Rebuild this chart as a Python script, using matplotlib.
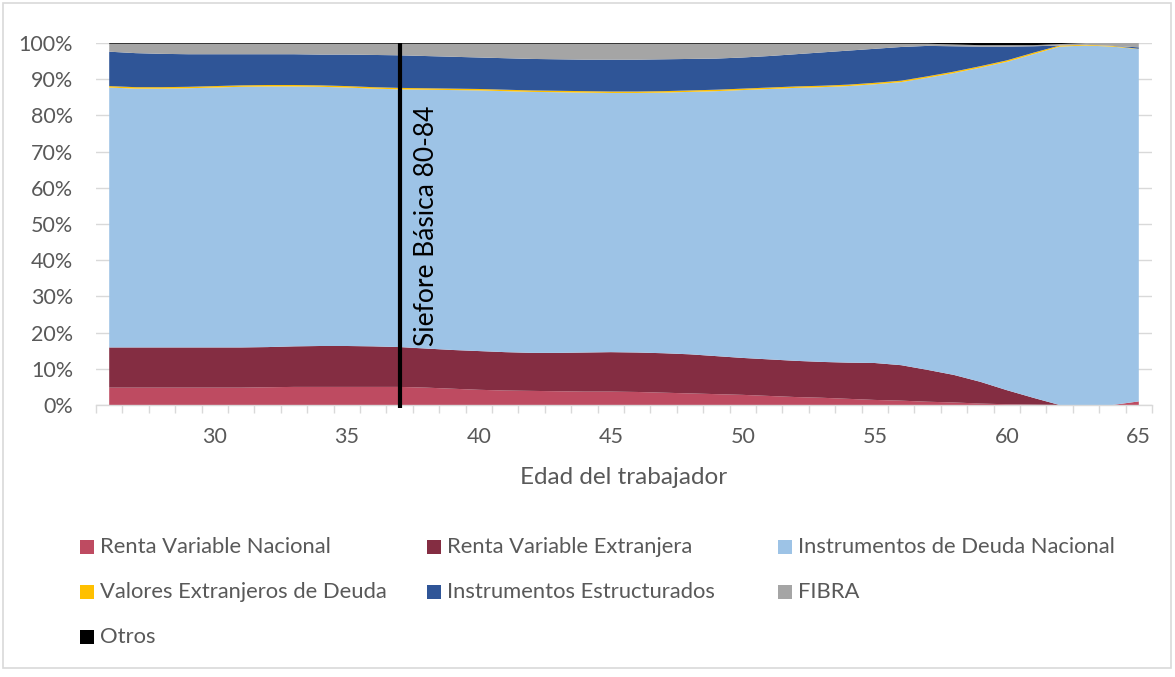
import matplotlib
matplotlib.use("Agg")
import matplotlib.pyplot as plt
from matplotlib.patches import Rectangle
from matplotlib.ticker import FixedLocator

plt.rcParams['font.family'] = ['Lato', 'DejaVu Sans']

edades = list(range(26, 66))

renta_var_nacional = [4.8, 4.8, 4.8, 4.8, 4.8, 4.8, 4.9, 5.0, 5.0, 5.0,
                      5.0, 5.0, 4.8, 4.5, 4.2, 4.0, 3.9, 3.8, 3.7, 3.7,
                      3.6, 3.4, 3.2, 3.0, 2.8, 2.5, 2.2, 2.0, 1.7, 1.4,
                      1.2, 0.9, 0.7, 0.4, 0.2, 0.1, 0.0, 0.0, 0.0, 1.0]
renta_var_extranjera = [11.1, 11.1, 11.1, 11.1, 11.1, 11.1, 11.1, 11.2, 11.3, 11.3,
                        11.2, 11.0, 10.8, 10.7, 10.7, 10.6, 10.5, 10.6, 10.8, 10.9,
                        10.9, 10.9, 10.8, 10.5, 10.2, 10.1, 10.0, 9.9, 10.0, 10.2,
                        9.8, 8.8, 7.6, 6.0, 3.9, 1.9, 0.0, 0.0, 0.0, 0.0]
deuda_nacional = [71.8, 71.5, 71.5, 71.6, 71.8, 72.0, 72.0, 71.8, 71.6, 71.4,
                  71.2, 71.2, 71.5, 71.8, 72.0, 72.1, 72.1, 72.0, 71.8, 71.6,
                  71.7, 72.0, 72.5, 73.2, 74.0, 74.7, 75.4, 75.9, 76.4, 77.0,
                  78.2, 80.7, 83.4, 86.8, 90.7, 94.9, 99.0, 99.3, 99.0, 97.3]
valores_ext_deuda = [0.4, 0.4, 0.4, 0.4, 0.4, 0.4, 0.4, 0.4, 0.4, 0.4,
                     0.4, 0.4, 0.4, 0.4, 0.4, 0.4, 0.4, 0.4, 0.4, 0.4,
                     0.4, 0.4, 0.4, 0.4, 0.4, 0.4, 0.4, 0.4, 0.4, 0.4,
                     0.4, 0.4, 0.4, 0.4, 0.4, 0.4, 0.3, 0.2, 0.2, 0.1]
estructurados = [9.5, 9.4, 9.2, 9.0, 8.8, 8.6, 8.5, 8.5, 8.5, 8.7,
                 8.9, 9.0, 8.9, 8.8, 8.7, 8.7, 8.7, 8.7, 8.7, 8.8,
                 8.8, 8.8, 8.7, 8.6, 8.6, 8.7, 8.9, 9.2, 9.4, 9.4,
                 9.3, 8.4, 7.0, 5.4, 3.8, 1.8, 0.0, 0.0, 0.0, 0.4]
fibra = [2.2, 2.6, 2.8, 2.9, 2.9, 2.9, 2.9, 2.9, 3.0, 3.0,
         3.1, 3.2, 3.4, 3.6, 3.8, 4.0, 4.2, 4.3, 4.4, 4.4,
         4.4, 4.3, 4.2, 4.1, 3.8, 3.4, 2.9, 2.4, 1.9, 1.4,
         0.9, 0.6, 0.5, 0.4, 0.4, 0.3, 0.4, 0.5, 0.8, 1.2]
otros = [0.2, 0.2, 0.2, 0.2, 0.2, 0.2, 0.2, 0.2, 0.2, 0.2,
         0.2, 0.2, 0.2, 0.2, 0.2, 0.2, 0.2, 0.2, 0.2, 0.2,
         0.2, 0.2, 0.2, 0.2, 0.2, 0.2, 0.2, 0.2, 0.2, 0.2,
         0.2, 0.2, 0.4, 0.6, 0.6, 0.6, 0.3, 0.0, 0.0, 0.0]

series_nombres = ["Renta Variable Nacional", "Renta Variable Extranjera",
                  "Instrumentos de Deuda Nacional", "Valores Extranjeros de Deuda",
                  "Instrumentos Estructurados", "FIBRA", "Otros"]
series_colores = ["#BE4B61", "#842D42", "#9DC3E6", "#FFC000",
                  "#2F5597", "#A5A5A5", "#000000"]

y_ticks = [0, 10, 20, 30, 40, 50, 60, 70, 80, 90, 100]
x_ticks = [30, 35, 40, 45, 50, 55, 60, 65]
edad_siefore = 37
etiqueta_siefore = "Siefore Básica 80-84"
titulo_x = "Edad del trabajador"

W, H = 1175, 677
fig = plt.figure(figsize=(W / 100, H / 100), dpi=100)
ax = fig.add_axes([96 / W, 1 - 405 / H, (1152 - 96) / W, (405 - 43) / H])

ax.stackplot(edades, renta_var_nacional, renta_var_extranjera, deuda_nacional,
             valores_ext_deuda, estructurados, fibra, otros,
             colors=series_colores, linewidth=0, zorder=2)

ax.set_xlim(edades[0] - 0.5, edades[-1] + 0.5)
ax.set_ylim(0, 100)

ax.set_yticks(y_ticks)
ax.set_yticklabels([f"{v}%" for v in y_ticks])
ax.grid(axis='y', color='#D9D9D9', linewidth=1, zorder=0)
ax.set_axisbelow(True)

ax.xaxis.set_major_locator(FixedLocator(x_ticks))
ax.set_xticklabels([str(v) for v in x_ticks])
ax.xaxis.set_minor_locator(FixedLocator([e - 0.5 for e in edades] + [edades[-1] + 0.5]))
ax.tick_params(axis='x', which='major', length=0, pad=16, labelsize=15.5, labelcolor='#595959')
ax.tick_params(axis='x', which='minor', length=6, width=1, color='#D9D9D9')
ax.tick_params(axis='y', length=0, pad=16.5, labelsize=15.5, labelcolor='#595959')

for s in ['top', 'right', 'left']:
    ax.spines[s].set_visible(False)
ax.spines['bottom'].set_color('#D9D9D9')
ax.spines['bottom'].set_linewidth(1)

ax.set_xlabel(titulo_x, fontsize=17.5, color='#595959', labelpad=14)

# vertical marker line
ax.plot([edad_siefore, edad_siefore], [-0.8, 100], color='black', linewidth=3,
        zorder=5, clip_on=False, solid_capstyle='butt')
ax.text(edad_siefore + 1.0, 49.5, etiqueta_siefore, rotation=90, ha='center',
        va='center', fontsize=19, color='black', zorder=6)

# legend (row-major, 3 columns)
col_x = [80, 427, 778]
row_y = [547, 592, 637]
for i, (nombre, color) in enumerate(zip(series_nombres, series_colores)):
    r, c = divmod(i, 3)
    x0 = col_x[c]
    yc = row_y[r]
    fig.add_artist(Rectangle((x0 / W, 1 - (yc + 7) / H), 14 / W, 14 / H,
                             transform=fig.transFigure, facecolor=color,
                             edgecolor='none'))
    fig.text((x0 + 20) / W, 1 - yc / H, nombre, ha='left', va='center',
             fontsize=15.8, color='#595959')

# chart border
fig.add_artist(Rectangle((3 / W, 1 - 668 / H), (1171 - 3) / W, (668 - 3) / H,
                         transform=fig.transFigure, facecolor='none',
                         edgecolor='#D9D9D9', linewidth=1.2))

fig.savefig("out.png", dpi=100)
